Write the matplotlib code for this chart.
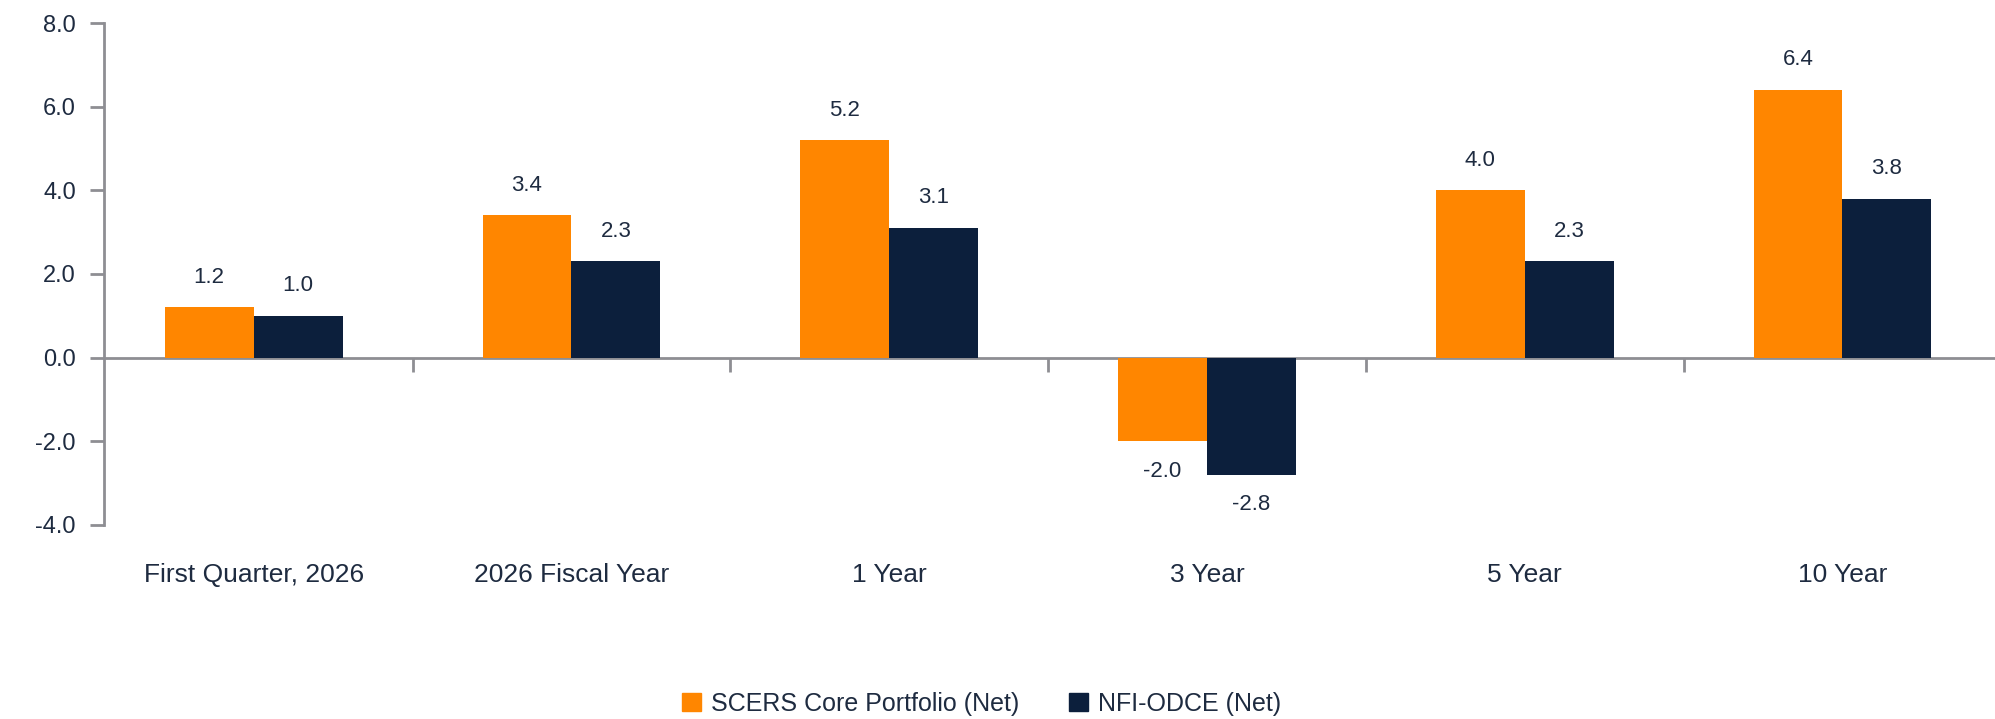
import numpy as np
import matplotlib
matplotlib.use('Agg')
import matplotlib.pyplot as plt
import matplotlib.transforms as mtransforms
from matplotlib.patches import Patch

# chart data
categories = ['First Quarter, 2026', '2026 Fiscal Year', '1 Year', '3 Year', '5 Year', '10 Year']
scers = [1.2, 3.4, 5.2, -2.0, 4.0, 6.4]
odce = [1.0, 2.3, 3.1, -2.8, 2.3, 3.8]
series_names = ['SCERS Core Portfolio (Net)', 'NFI-ODCE (Net)']
yticks = [-4.0, -2.0, 0.0, 2.0, 4.0, 6.0, 8.0]

orange = '#FF8600'
navy = '#0C1F3C'
text_col = '#1E2B40'
axis_col = '#8E8E93'

plt.rcParams['font.family'] = ['Liberation Sans', 'DejaVu Sans']

fig = plt.figure(figsize=(19.95, 7.19), dpi=100)
ax = fig.add_axes([0.052, 0.270, 0.948, 0.698])

x = np.arange(len(categories))
w = 0.28
ax.bar(x - w / 2, scers, w, color=orange, label=series_names[0])
ax.bar(x + w / 2, odce, w, color=navy, label=series_names[1])

# value labels
for xs, vals in [(x - w / 2, scers), (x + w / 2, odce)]:
    for xi, v in zip(xs, vals):
        if v >= 0:
            ax.annotate(f'{v:.1f}', (xi, v), xytext=(0, 14), textcoords='offset points',
                        ha='center', va='bottom', fontsize=16, color=text_col)
        else:
            ax.annotate(f'{v:.1f}', (xi, v), xytext=(0, -14), textcoords='offset points',
                        ha='center', va='top', fontsize=16, color=text_col)

ax.set_xlim(-0.472, 5.48)
ax.set_ylim(-4, 8)
ax.set_yticks(yticks)
ax.set_yticklabels([f'{t:.1f}' for t in yticks])

for s in ['top', 'right']:
    ax.spines[s].set_visible(False)
ax.spines['left'].set_color(axis_col)
ax.spines['left'].set_linewidth(2)
ax.spines['bottom'].set_position(('data', 0))
ax.spines['bottom'].set_color(axis_col)
ax.spines['bottom'].set_linewidth(2)
ax.spines['bottom'].set_zorder(0.5)

ax.tick_params(axis='y', colors=axis_col, labelcolor=text_col, labelsize=17,
               length=10, width=2, pad=10)
ax.set_xticks([])
ax.set_xticks(x[:-1] + 0.5, minor=True)
ax.tick_params(axis='x', which='minor', colors=axis_col, length=10, width=2, labelbottom=False)

# category labels below the plot area
trans = mtransforms.blended_transform_factory(ax.transData, ax.transAxes)
for xi, c in zip(x, categories):
    ax.text(xi, -0.10, c, transform=trans, ha='center', va='center', fontsize=19, color=text_col)

handles = [Patch(color=orange, label=series_names[0]), Patch(color=navy, label=series_names[1])]
fig.legend(handles=handles, loc='center', bbox_to_anchor=(0.492, 0.021), ncol=2, frameon=False,
           fontsize=18, handlelength=0.75, handleheight=0.75, handletextpad=0.4,
           columnspacing=2.0, labelcolor=text_col)

fig.savefig('out.png', dpi=100)
